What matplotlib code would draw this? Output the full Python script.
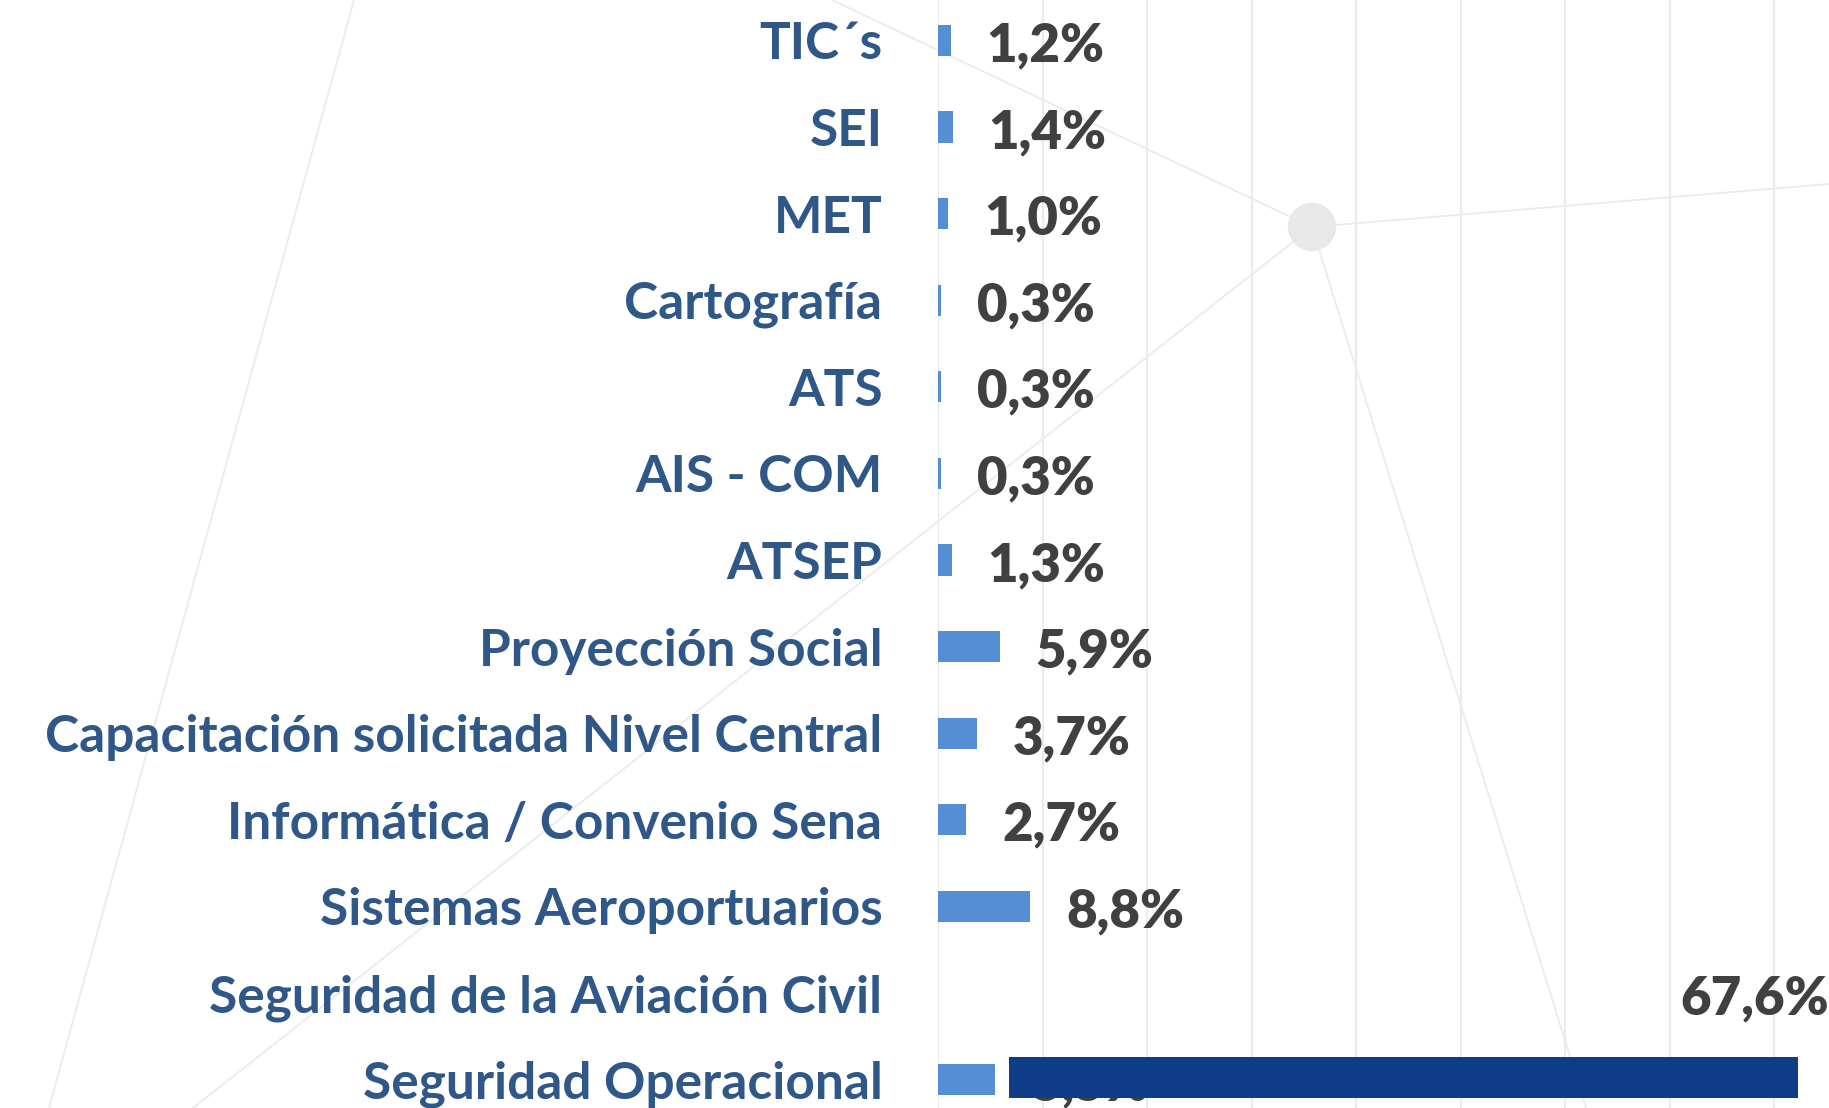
import matplotlib
matplotlib.use("Agg")
import matplotlib.pyplot as plt
from matplotlib.lines import Line2D
from matplotlib.patches import Ellipse
from matplotlib.transforms import ScaledTranslation

categorias = ["TIC´s", "SEI", "MET", "Cartografía", "ATS", "AIS - COM", "ATSEP",
              "Proyección Social", "Capacitación solicitada Nivel Central",
              "Informática / Convenio Sena", "Sistemas Aeroportuarios",
              "Seguridad de la Aviación Civil", "Seguridad Operacional"]
porcentajes = [1.2, 1.4, 1.0, 0.3, 0.3, 0.3, 1.3, 5.9, 3.7, 2.7, 8.8, 67.6, 5.5]
etiquetas = ["1,2%", "1,4%", "1,0%", "0,3%", "0,3%", "0,3%", "1,3%", "5,9%",
             "3,7%", "2,7%", "8,8%", "67,6%", "5,5%"]

AZUL = "#558ED5"
AZUL_OSCURO = "#0E3C88"
TEXTO_EJE = "#2F5787"
TEXTO_VALOR = "#404040"
GRIS = "#EBEBEB"

W, H = 1829, 1108
plt.rcParams["font.family"] = ["Lato", "DejaVu Sans"]
plt.rcParams["font.weight"] = "bold"

fig = plt.figure(figsize=(W / 100, H / 100), dpi=100)
fig.patch.set_facecolor("white")


def px(x, y):
    return x / W, 1 - y / H


# decorative background network
segmentos = [((354, 0), (49, 1108)), ((832, 0), (1312, 227)),
             ((1312, 227), (1829, 184)), ((1312, 227), (193, 1108)),
             ((1312, 227), (1586, 1108))]
for a, b in segmentos:
    (x0, y0), (x1, y1) = px(*a), px(*b)
    fig.add_artist(Line2D([x0, x1], [y0, y1], transform=fig.transFigure,
                          color=GRIS, lw=1.3, zorder=0))
cx, cy = px(1312, 227)
fig.add_artist(Ellipse((cx, cy), 47 / W, 47 / H, transform=fig.transFigure,
                       color="#E8E8E8", zorder=0.5))

# main bar chart
ax = fig.add_axes([938 / W, -15 / H, 1 - 938 / W, 1126 / H])
ax.patch.set_alpha(0)
y = list(range(len(categorias)))
colores = [AZUL] * len(categorias)
colores[categorias.index("Seguridad de la Aviación Civil")] = "none"
bars = ax.barh(y, porcentajes, height=0.36, color=colores,
               edgecolor="none", zorder=2)
anots = ax.bar_label(bars, labels=etiquetas, padding=26, fontsize=38,
                     color=TEXTO_VALOR, fontweight="heavy")
for t in anots:
    t.xyann = (t.xyann[0], -4)
ax.set_yticks(y)
ax.set_yticklabels(categorias, fontsize=37, color=TEXTO_EJE, fontweight="bold")
bajar = ScaledTranslation(0, -0.06, fig.dpi_scale_trans)
for lbl in ax.get_yticklabels():
    lbl.set_transform(lbl.get_transform() + bajar)
ax.set_ylim(len(categorias) - 0.5, -0.5)
ax.set_xlim(0, (W - 938) / 10.45)
ax.set_xticks(range(0, 90, 10))
ax.set_xticklabels([])
ax.tick_params(axis="both", length=0)
ax.tick_params(axis="y", pad=40)
ax.grid(axis="x", color=GRIS, lw=1.6, zorder=0)
for s in ax.spines.values():
    s.set_visible(False)

# dark bar for Seguridad de la Aviación Civil, drawn over the bottom row
ax2 = fig.add_axes([1009 / W, 10 / H, (1798 - 1009) / W, 41 / H], zorder=5)
civil = porcentajes[categorias.index("Seguridad de la Aviación Civil")]
ax2.barh([0], [civil], height=1.0, color=AZUL_OSCURO)
ax2.set_xlim(0, civil)
ax2.set_ylim(-0.5, 0.5)
ax2.axis("off")

fig.savefig("out.png", dpi=100)
